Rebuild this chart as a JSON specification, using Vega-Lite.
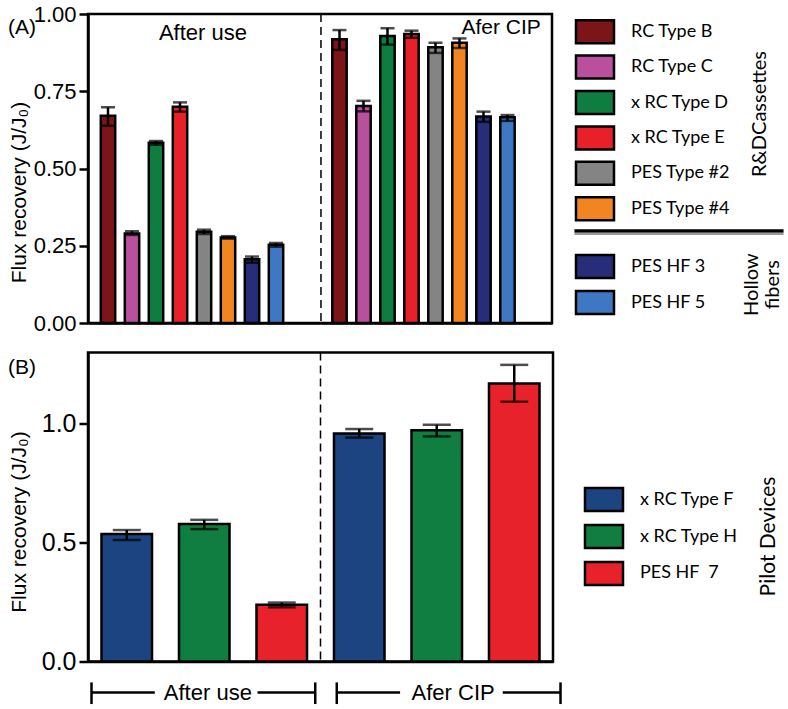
{
 "$schema": "https://vega.github.io/schema/vega-lite/v6.json",
 "background": "white",
 "padding": {"left": 6, "top": 1, "right": 0, "bottom": 0},
 "config": {
  "font": "Liberation Sans",
  "view": {"stroke": null},
  "axis": {"grid": false, "domainColor": "black", "domainWidth": 2.5, "tickColor": "black", "tickWidth": 2.5, "tickSize": 9, "labelColor": "black", "labelPadding": 3, "titleColor": "black", "titleFontWeight": "normal", "titleFontSize": 21, "titlePadding": 2},
  "title": {"fontWeight": "normal", "fontSize": 21, "color": "black"}
 },
 "datasets": {
  "panelA": [
   {"cond": "After use", "type": "RC Type B", "value": 0.671, "lo": 0.638, "hi": 0.698},
   {"cond": "After use", "type": "RC Type C", "value": 0.290, "lo": 0.285, "hi": 0.297},
   {"cond": "After use", "type": "x RC Type D", "value": 0.583, "lo": 0.577, "hi": 0.589},
   {"cond": "After use", "type": "x RC Type E", "value": 0.700, "lo": 0.684, "hi": 0.714},
   {"cond": "After use", "type": "PES Type #2", "value": 0.295, "lo": 0.288, "hi": 0.302},
   {"cond": "After use", "type": "PES Type #4", "value": 0.277, "lo": 0.273, "hi": 0.281},
   {"cond": "After use", "type": "PES HF 3", "value": 0.206, "lo": 0.195, "hi": 0.215},
   {"cond": "After use", "type": "PES HF 5", "value": 0.253, "lo": 0.247, "hi": 0.259},
   {"cond": "Afer CIP", "type": "RC Type B", "value": 0.918, "lo": 0.884, "hi": 0.948},
   {"cond": "Afer CIP", "type": "RC Type C", "value": 0.702, "lo": 0.685, "hi": 0.719},
   {"cond": "Afer CIP", "type": "x RC Type D", "value": 0.929, "lo": 0.901, "hi": 0.954},
   {"cond": "Afer CIP", "type": "x RC Type E", "value": 0.935, "lo": 0.923, "hi": 0.946},
   {"cond": "Afer CIP", "type": "PES Type #2", "value": 0.892, "lo": 0.874, "hi": 0.907},
   {"cond": "Afer CIP", "type": "PES Type #4", "value": 0.907, "lo": 0.890, "hi": 0.921},
   {"cond": "Afer CIP", "type": "PES HF 3", "value": 0.668, "lo": 0.651, "hi": 0.684},
   {"cond": "Afer CIP", "type": "PES HF 5", "value": 0.666, "lo": 0.654, "hi": 0.673}
  ],
  "panelB": [
   {"cond": "After use", "type": "x RC Type F", "value": 0.536, "lo": 0.511, "hi": 0.553},
   {"cond": "After use", "type": "x RC Type H", "value": 0.578, "lo": 0.557, "hi": 0.596},
   {"cond": "After use", "type": "PES HF \u00a07", "value": 0.2385, "lo": 0.228, "hi": 0.248},
   {"cond": "Afer CIP", "type": "x RC Type F", "value": 0.959, "lo": 0.942, "hi": 0.978},
   {"cond": "Afer CIP", "type": "x RC Type H", "value": 0.973, "lo": 0.947, "hi": 0.996},
   {"cond": "Afer CIP", "type": "PES HF \u00a07", "value": 1.170, "lo": 1.093, "hi": 1.248}
  ],
  "legendA": [
   {"name": "RC Type B", "group": "cassettes"},
   {"name": "RC Type C", "group": "cassettes"},
   {"name": "x RC Type D", "group": "cassettes"},
   {"name": "x RC Type E", "group": "cassettes"},
   {"name": "PES Type #2", "group": "cassettes"},
   {"name": "PES Type #4", "group": "cassettes"},
   {"name": "PES HF 3", "group": "fibers"},
   {"name": "PES HF 5", "group": "fibers"}
  ],
  "legendB": [
   {"name": "x RC Type F"},
   {"name": "x RC Type H"},
   {"name": "PES HF \u00a07"}
  ],
  "groups": [
   {"cond": "After use"},
   {"cond": "Afer CIP"}
  ]
 },
 "resolve": {"scale": {"fill": "independent", "xOffset": "independent"}},
 "vconcat": [
  {
   "spacing": 7,
   "resolve": {"scale": {"fill": "independent", "xOffset": "independent"}},
   "hconcat": [
    {
     "width": 464,
     "height": 309,
     "view": {"stroke": "black", "strokeWidth": 2.5},
     "title": {"text": "(A)", "anchor": "start", "frame": "bounds", "baseline": "middle", "dy": 50},
     "data": {"name": "panelA"},
     "layer": [
      {
       "mark": {"type": "bar", "stroke": "black", "strokeWidth": 2.5},
       "encoding": {
        "x": {"field": "cond", "type": "nominal", "scale": {"domain": ["After use", "Afer CIP"], "paddingInner": 0.1706, "paddingOuter": 0.0875, "align": 0.1975}, "axis": {"labels": false, "ticks": false, "title": null}},
        "xOffset": {"field": "type", "type": "nominal", "scale": {"domain": ["RC Type B", "RC Type C", "x RC Type D", "x RC Type E", "PES Type #2", "PES Type #4", "PES HF 3", "PES HF 5"], "paddingInner": 0.4, "paddingOuter": 0.2}},
        "y": {"field": "value", "type": "quantitative", "scale": {"domain": [0, 1], "nice": false}, "axis": {"values": [0, 0.25, 0.5, 0.75, 1], "format": ".2f", "labelFontSize": 22, "title": "Flux recovery (J/J₀)", "titleY": 178, "minExtent": 57, "maxExtent": 57}},
        "fill": {"field": "type", "type": "nominal", "scale": {"domain": ["RC Type B", "RC Type C", "x RC Type D", "x RC Type E", "PES Type #2", "PES Type #4", "PES HF 3", "PES HF 5"], "range": ["#7c1518", "#b8509e", "#0f7d40", "#e8202a", "#848484", "#f08522", "#272d78", "#3f78c2"]}, "legend": null}
       }
      },
      {
       "mark": {"type": "rule", "color": "black", "strokeWidth": 2.5},
       "encoding": {
        "x": {"field": "cond", "type": "nominal"},
        "xOffset": {"field": "type", "type": "nominal"},
        "y": {"field": "lo", "type": "quantitative"},
        "y2": {"field": "hi"}
       }
      },
      {
       "mark": {"type": "tick", "color": "black", "size": 14, "thickness": 2.5},
       "encoding": {
        "x": {"field": "cond", "type": "nominal"},
        "xOffset": {"field": "type", "type": "nominal"},
        "y": {"field": "lo", "type": "quantitative"}
       }
      },
      {
       "mark": {"type": "tick", "color": "black", "size": 14, "thickness": 2.5},
       "encoding": {
        "x": {"field": "cond", "type": "nominal"},
        "xOffset": {"field": "type", "type": "nominal"},
        "y": {"field": "hi", "type": "quantitative"}
       }
      },
      {
       "data": {"name": "groups"},
       "transform": [{"filter": "datum.cond == 'Afer CIP'"}],
       "mark": {"type": "rule", "color": "black", "strokeWidth": 1.5, "strokeDash": [8, 5]},
       "encoding": {
        "x": {"field": "cond", "type": "nominal", "bandPosition": -0.034}
       }
      },
      {
       "data": {"name": "groups"},
       "transform": [{"filter": "datum.cond == 'After use'"}],
       "mark": {"type": "text", "fontSize": 22, "baseline": "middle", "color": "black"},
       "encoding": {
        "x": {"field": "cond", "type": "nominal", "bandPosition": 0.557},
        "y": {"datum": 0.939, "type": "quantitative"},
        "text": {"field": "cond"}
       }
      },
      {
       "data": {"name": "groups"},
       "transform": [{"filter": "datum.cond == 'Afer CIP'"}],
       "mark": {"type": "text", "fontSize": 21, "baseline": "middle", "color": "black"},
       "encoding": {
        "x": {"field": "cond", "type": "nominal", "bandPosition": 0.904},
        "y": {"datum": 0.955, "type": "quantitative"},
        "text": {"field": "cond"}
       }
      }
     ]
    },
    {
     "spacing": 13.6,
     "resolve": {"scale": {"fill": "independent"}},
     "vconcat": [
      {
       "width": 222,
       "height": 212.4,
       "data": {"name": "legendA"},
       "transform": [{"filter": "datum.group == 'cassettes'"}],
       "layer": [
        {
         "mark": {"type": "rect", "stroke": "black", "strokeWidth": 2.5},
         "encoding": {
          "x": {"datum": "swatch", "type": "nominal", "scale": {"domain": ["swatch", "label", "gap", "title"], "paddingInner": 0.309, "paddingOuter": 0.1727, "align": 0.789}, "axis": null},
          "y": {"field": "name", "type": "nominal", "scale": {"domain": ["RC Type B", "RC Type C", "x RC Type D", "x RC Type E", "PES Type #2", "PES Type #4"], "paddingInner": 0.35, "paddingOuter": 0.175}, "axis": null},
          "fill": {"field": "name", "type": "nominal", "scale": {"domain": ["RC Type B", "RC Type C", "x RC Type D", "x RC Type E", "PES Type #2", "PES Type #4"], "range": ["#7c1518", "#b8509e", "#0f7d40", "#e8202a", "#848484", "#f08522"]}, "legend": null}
         }
        },
        {
         "mark": {"type": "text", "font": "Lato", "fontSize": 18, "align": "left", "baseline": "middle", "color": "black"},
         "encoding": {
          "x": {"datum": "label", "type": "nominal", "bandPosition": 0},
          "y": {"field": "name", "type": "nominal"},
          "text": {"field": "name"}
         }
        },
        {
         "transform": [{"filter": "datum.name == 'PES Type #4'"}],
         "mark": {"type": "rule", "color": "black", "strokeWidth": 3.3},
         "encoding": {
          "x": {"datum": "swatch", "type": "nominal", "bandPosition": -0.04},
          "x2": {"datum": "title", "bandPosition": 1.12},
          "y": {"field": "name", "type": "nominal", "bandPosition": 1.47}
         }
        },
        {
         "transform": [{"filter": "datum.name == 'PES Type #4'"}],
         "mark": {"type": "rule", "color": "#9a9a9a", "strokeWidth": 2.3},
         "encoding": {
          "x": {"datum": "swatch", "type": "nominal", "bandPosition": -0.04},
          "x2": {"datum": "title", "bandPosition": 1.12},
          "y": {"field": "name", "type": "nominal", "bandPosition": 1.59}
         }
        },
        {
         "transform": [{"filter": "datum.name == 'x RC Type D'"}],
         "mark": {"type": "text", "font": "Lato", "fontSize": 20, "angle": 270, "align": "center", "baseline": "middle", "color": "black"},
         "encoding": {
          "x": {"datum": "title", "type": "nominal"},
          "y": {"field": "name", "type": "nominal", "bandPosition": 1},
          "text": {"value": "R&DCassettes"}
         }
        }
       ]
      },
      {
       "width": 222,
       "height": 72,
       "data": {"name": "legendA"},
       "transform": [{"filter": "datum.group == 'fibers'"}],
       "layer": [
        {
         "mark": {"type": "rect", "stroke": "black", "strokeWidth": 2.5},
         "encoding": {
          "x": {"datum": "swatch", "type": "nominal", "scale": {"domain": ["swatch", "label", "gap", "title"], "paddingInner": 0.309, "paddingOuter": 0.1727, "align": 0.789}, "axis": null},
          "y": {"field": "name", "type": "nominal", "scale": {"domain": ["PES HF 3", "PES HF 5"], "paddingInner": 0.36, "paddingOuter": 0.18}, "axis": null},
          "fill": {"field": "name", "type": "nominal", "scale": {"domain": ["PES HF 3", "PES HF 5"], "range": ["#272d78", "#3f78c2"]}, "legend": null}
         }
        },
        {
         "mark": {"type": "text", "font": "Lato", "fontSize": 18, "align": "left", "baseline": "middle", "color": "black"},
         "encoding": {
          "x": {"datum": "label", "type": "nominal", "bandPosition": 0},
          "y": {"field": "name", "type": "nominal"},
          "text": {"field": "name"}
         }
        },
        {
         "transform": [{"filter": "datum.name == 'PES HF 3'"}],
         "mark": {"type": "text", "font": "Lato", "fontSize": 20, "angle": 270, "align": "center", "baseline": "middle", "lineHeight": 21, "dy": -7.5, "color": "black"},
         "encoding": {
          "x": {"datum": "title", "type": "nominal"},
          "text": {"value": ["Hollow", "fibers"]}
         }
        }
       ]
      }
     ]
    }
   ]
  },
  {
   "spacing": 7,
   "resolve": {"scale": {"fill": "independent", "xOffset": "independent"}},
   "hconcat": [
    {
     "width": 465,
     "height": 309,
     "view": {"stroke": "black", "strokeWidth": 2.5},
     "title": {"text": "(B)", "anchor": "start", "frame": "bounds", "baseline": "middle", "dy": 41},
     "data": {"name": "panelB"},
     "resolve": {"scale": {"x": "independent"}},
     "layer": [
      {
       "layer": [
        {
         "mark": {"type": "bar", "stroke": "black", "strokeWidth": 2.5},
         "encoding": {
          "x": {"field": "cond", "type": "nominal", "scale": {"domain": ["After use", "Afer CIP"], "paddingInner": 0, "paddingOuter": 0}, "axis": {"labels": false, "ticks": false, "title": null}},
          "xOffset": {"field": "type", "type": "nominal", "scale": {"domain": ["x RC Type F", "x RC Type H", "PES HF \u00a07"], "paddingInner": 0.348, "paddingOuter": 0.174}},
          "y": {"field": "value", "type": "quantitative", "scale": {"domain": [0, 1.3], "nice": false}, "axis": {"values": [0, 0.5, 1], "format": ".1f", "labelFontSize": 25, "title": "Flux recovery (J/J₀)", "titleY": 169, "minExtent": 57, "maxExtent": 57}},
          "fill": {"field": "type", "type": "nominal", "scale": {"domain": ["x RC Type F", "x RC Type H", "PES HF \u00a07"], "range": ["#1c4480", "#0f7e40", "#e8222a"]}, "legend": null}
         }
        },
        {
         "mark": {"type": "rule", "color": "black", "strokeWidth": 2.5},
         "encoding": {
          "x": {"field": "cond", "type": "nominal"},
          "xOffset": {"field": "type", "type": "nominal"},
          "y": {"field": "lo", "type": "quantitative"},
          "y2": {"field": "hi"}
         }
        },
        {
         "mark": {"type": "tick", "color": "black", "size": 28, "thickness": 2.5},
         "encoding": {
          "x": {"field": "cond", "type": "nominal"},
          "xOffset": {"field": "type", "type": "nominal"},
          "y": {"field": "lo", "type": "quantitative"}
         }
        },
        {
         "mark": {"type": "tick", "color": "black", "size": 28, "thickness": 2.5},
         "encoding": {
          "x": {"field": "cond", "type": "nominal"},
          "xOffset": {"field": "type", "type": "nominal"},
          "y": {"field": "hi", "type": "quantitative"}
         }
        },
        {
         "data": {"name": "groups"},
         "transform": [{"filter": "datum.cond == 'Afer CIP'"}],
         "mark": {"type": "rule", "color": "black", "strokeWidth": 1.5, "strokeDash": [8, 5]},
         "encoding": {
          "x": {"field": "cond", "type": "nominal", "bandPosition": 0}
         }
        }
       ]
      },
      {
       "data": {"name": "groups"},
       "layer": [
        {
         "mark": {"type": "rule", "color": "black", "strokeWidth": 2.5},
         "encoding": {
          "x": {"field": "cond", "type": "nominal", "bandPosition": 0, "scale": {"domain": ["After use", "Afer CIP"], "range": [3.5, 472.5], "paddingInner": 0.0878, "paddingOuter": 0}, "axis": null},
          "y": {"datum": -0.088, "type": "quantitative"},
          "y2": {"datum": -0.179}
         }
        },
        {
         "mark": {"type": "rule", "color": "black", "strokeWidth": 2.5},
         "encoding": {
          "x": {"field": "cond", "type": "nominal", "bandPosition": 1},
          "y": {"datum": -0.088, "type": "quantitative"},
          "y2": {"datum": -0.179}
         }
        },
        {
         "mark": {"type": "rule", "color": "black", "strokeWidth": 2.5},
         "encoding": {
          "x": {"field": "cond", "type": "nominal", "bandPosition": 0},
          "x2": {"field": "cond", "bandPosition": 0.283},
          "y": {"datum": -0.13, "type": "quantitative"}
         }
        },
        {
         "mark": {"type": "rule", "color": "black", "strokeWidth": 2.5},
         "encoding": {
          "x": {"field": "cond", "type": "nominal", "bandPosition": 0.742},
          "x2": {"field": "cond", "bandPosition": 1},
          "y": {"datum": -0.13, "type": "quantitative"}
         }
        },
        {
         "mark": {"type": "text", "fontSize": 22, "baseline": "middle", "color": "black"},
         "encoding": {
          "x": {"field": "cond", "type": "nominal", "bandPosition": 0.52},
          "y": {"datum": -0.132, "type": "quantitative"},
          "text": {"field": "cond"}
         }
        }
       ]
      }
     ]
    },
    {
     "width": 222,
     "height": 309,
     "data": {"name": "legendB"},
     "layer": [
      {
       "mark": {"type": "rect", "stroke": "black", "strokeWidth": 2.5},
       "encoding": {
        "x": {"datum": "swatch", "type": "nominal", "scale": {"domain": ["swatch", "label", "gap", "title"], "paddingInner": 0.309, "paddingOuter": 0.1727, "align": 0.789}, "axis": null},
        "y": {"field": "name", "type": "nominal", "scale": {"domain": ["x RC Type F", "x RC Type H", "PES HF \u00a07"], "range": [135.5, 232.5], "paddingInner": 0.378, "paddingOuter": 0}, "axis": null},
        "fill": {"field": "name", "type": "nominal", "scale": {"domain": ["x RC Type F", "x RC Type H", "PES HF \u00a07"], "range": ["#1c4480", "#0f7e40", "#e8222a"]}, "legend": null}
       }
      },
      {
       "mark": {"type": "text", "font": "Lato", "fontSize": 18, "align": "left", "baseline": "middle", "color": "black"},
       "encoding": {
        "x": {"datum": "label", "type": "nominal", "bandPosition": 0},
        "y": {"field": "name", "type": "nominal"},
        "text": {"field": "name"}
       }
      },
      {
       "transform": [{"filter": "datum.name == 'x RC Type H'"}],
       "mark": {"type": "text", "font": "Lato", "fontSize": 21, "angle": 270, "align": "center", "baseline": "middle", "color": "black"},
       "encoding": {
        "x": {"datum": "title", "type": "nominal"},
        "y": {"field": "name", "type": "nominal"},
        "text": {"value": "Pilot Devices"}
       }
      }
     ]
    }
   ]
  }
 ],
 "spacing": 14.5
}
